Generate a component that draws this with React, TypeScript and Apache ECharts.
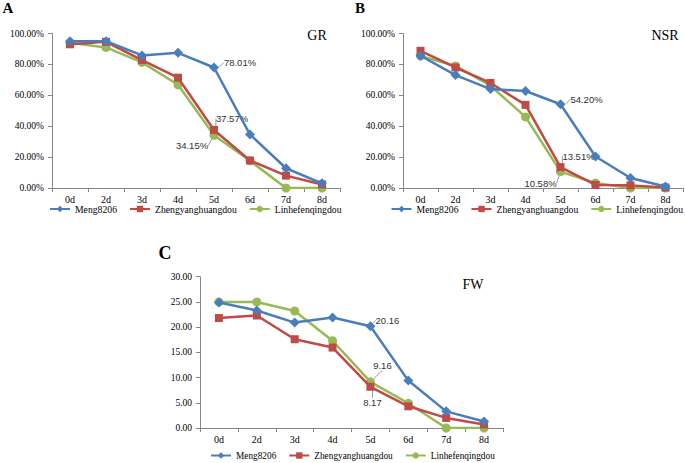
import React, { useEffect, useRef } from "react";
import * as echarts from "echarts";

const categories = ["0d", "2d", "3d", "4d", "5d", "6d", "7d", "8d"];
const seriesNames = ["Meng8206", "Zhengyanghuangdou", "Linhefenqingdou"];

// GR (%)
const grMeng = [95, 95, 85.8, 87.5, 78.01, 34.6, 12.8, 3.0];
const grZheng = [93, 94.6, 82.8, 71.4, 37.57, 17.8, 8.0, 2.3];
const grLinhe = [94, 91, 81.3, 66.8, 34.15, 17.6, 0, 0];

// NSR (%)
const nsrMeng = [85.6, 73.1, 64.0, 62.8, 54.2, 20.4, 6.5, 1.0];
const nsrZheng = [88.8, 78.0, 68.0, 53.8, 13.51, 2.0, 1.7, 0.3];
const nsrLinhe = [85.4, 79.0, 66.2, 46.0, 10.58, 3.2, 0, 0];

// FW
const fwMeng = [24.9, 23.3, 20.9, 21.9, 20.16, 9.4, 3.3, 1.3];
const fwZheng = [21.8, 22.3, 17.6, 15.95, 8.17, 4.3, 2.0, 0.7];
const fwLinhe = [25.0, 25.0, 23.2, 17.3, 9.16, 4.9, 0, 0];

const colors = ["#4A7EBB", "#BE4B48", "#98B954"];
const symbols = ["diamond", "rect", "circle"];
const symbolSizes = [10, 8, 9];

const SERIF = "'Liberation Serif', 'Times New Roman', serif";
const SANS = "'Liberation Sans', Arial, sans-serif";

// label offsets (relative to a 'top' label) for the 5d point of each series, per panel
const labelOffsets = [
  [[26, 10], [18, 3], [-22, 25]],
  [[26, 10], [18, 3], [-20, 26]],
  [[17, 9], [2, 30], [12, -2]],
];

export default function App() {
  const ref = useRef<HTMLDivElement>(null);
  useEffect(() => {
    const chart = echarts.init(ref.current!, null, { renderer: "svg" });
    const panels = [
      { data: [grMeng, grZheng, grLinhe], pct: true, max: 100, interval: 20 },
      { data: [nsrMeng, nsrZheng, nsrLinhe], pct: true, max: 100, interval: 20 },
      { data: [fwMeng, fwZheng, fwLinhe], pct: false, max: 30, interval: 5 },
    ];
    const grids = [
      { left: 52, top: 33.5, width: 288, height: 154.5 },
      { left: 403, top: 33.5, width: 280, height: 154.5 },
      { left: 200, top: 276.7, width: 303, height: 151.3 },
    ];
    const axisColor = "#868686";
    const xAxis = grids.map((_, i) => ({
      type: "category",
      gridIndex: i,
      data: categories,
      boundaryGap: true,
      axisLine: { lineStyle: { color: axisColor, width: 1 } },
      axisTick: { show: true, length: 4, lineStyle: { color: axisColor } },
      axisLabel: { fontFamily: SERIF, fontSize: 10, color: "#000", margin: 6 },
      splitLine: { show: false },
    }));
    const yAxis = panels.map((p, i) => ({
      type: "value",
      gridIndex: i,
      min: 0,
      max: p.max,
      interval: p.interval,
      axisLine: { show: true, lineStyle: { color: axisColor, width: 1 } },
      axisTick: { show: true, length: 4, lineStyle: { color: axisColor } },
      splitLine: { show: false },
      axisLabel: {
        fontFamily: SERIF,
        fontSize: 9.5,
        color: "#000",
        margin: 8,
        formatter: (v: number) => (p.pct ? v.toFixed(2) + "%" : v.toFixed(2)),
      },
    }));
    const series: any[] = [];
    panels.forEach((p, pi) => {
      p.data.forEach((arr, si) => {
        const off = labelOffsets[pi][si];
        series.push({
          type: "line",
          name: seriesNames[si],
          xAxisIndex: pi,
          yAxisIndex: pi,
          data: arr.map((v, di) =>
            di === 4
              ? {
                  value: v,
                  label: {
                    show: true,
                    position: "top",
                    fontFamily: SANS,
                    fontSize: 9.5,
                    color: "#333",
                    formatter: p.pct ? v.toFixed(2) + "%" : v.toFixed(2),
                  },
                  labelLine: { show: true, lineStyle: { color: "#999", width: 1 } },
                }
              : v
          ),
          symbol: symbols[si],
          symbolSize: symbolSizes[si],
          color: colors[si],
          lineStyle: { color: colors[si], width: 2.5 },
          itemStyle: { color: colors[si] },
          labelLayout: (params: any) =>
            params.dataIndex === 4 ? { dx: off[0], dy: off[1] } : {},
          z: 3 - si,
        });
      });
    });
    const legendBase = {
      data: seriesNames,
      itemWidth: 20,
      itemHeight: 8,
      itemGap: 12,
      padding: 0,
      orient: "horizontal",
      textStyle: { fontFamily: SERIF, fontSize: 9.7, color: "#000" },
    };
    chart.setOption({
      animation: false,
      backgroundColor: "#fff",
      grid: grids,
      xAxis,
      yAxis,
      series,
      legend: [
        { ...legendBase, left: 49, top: 204, width: 320 },
        { ...legendBase, right: 2, top: 204, width: 300 },
        { ...legendBase, left: 210, top: 451, width: 320, textStyle: { ...legendBase.textStyle, fontSize: 9.3 } },
      ],
      graphic: [
        { type: "text", x: 8, y: 8, style: { text: "A", font: `bold 15px ${SERIF}`, fill: "#000", textAlign: "center", textVerticalAlign: "middle" } },
        { type: "text", x: 360, y: 8, style: { text: "B", font: `bold 15px ${SERIF}`, fill: "#000", textAlign: "center", textVerticalAlign: "middle" } },
        { type: "text", x: 165, y: 253, style: { text: "C", font: `bold 18px ${SERIF}`, fill: "#000", textAlign: "center", textVerticalAlign: "middle" } },
        { type: "text", x: 317, y: 35, style: { text: "GR", font: `14px ${SERIF}`, fill: "#000", textAlign: "center", textVerticalAlign: "middle" } },
        { type: "text", x: 665, y: 35, style: { text: "NSR", font: `14px ${SERIF}`, fill: "#000", textAlign: "center", textVerticalAlign: "middle" } },
        { type: "text", x: 473, y: 284, style: { text: "FW", font: `14px ${SERIF}`, fill: "#000", textAlign: "center", textVerticalAlign: "middle" } },
      ],
    });
    return () => chart.dispose();
  }, []);
  return (
    <div
      ref={ref}
      style={{ position: "fixed", left: 0, top: 0, width: 685, height: 463, background: "#fff" }}
    />
  );
}
